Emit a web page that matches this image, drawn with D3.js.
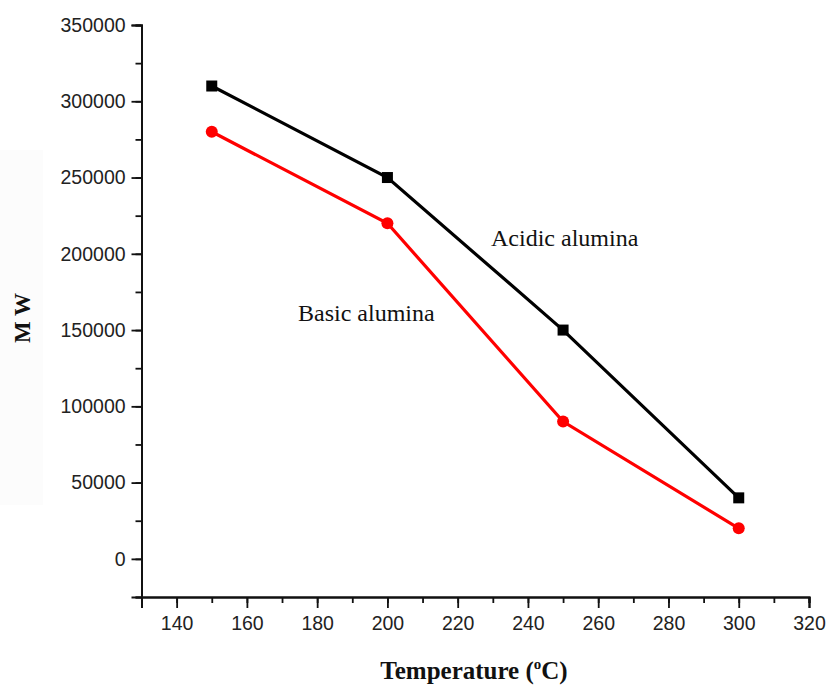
<!DOCTYPE html>
<html><head><meta charset="utf-8">
<script src="https://cdn.jsdelivr.net/npm/d3@7"></script>
<style>body{margin:0;background:#fff}svg{display:block}</style>
</head><body>
<svg id="c" width="829" height="685"></svg>
<script>
const temperatures = [150, 200, 250, 300];
const acidicMW = [310000, 250000, 150000, 40000];
const basicMW = [280000, 220000, 90000, 20000];
const xTicks = [140, 160, 180, 200, 220, 240, 260, 280, 300, 320];
const yTicks = [0, 50000, 100000, 150000, 200000, 250000, 300000, 350000];

const svg = d3.select("#c");
svg.append("rect").attr("x",0).attr("y",150).attr("width",43).attr("height",355).attr("fill","#fcfcfc");

const x = d3.scaleLinear().domain([130, 320]).range([141.5, 809]);
const y = d3.scaleLinear().domain([-25000, 350000]).range([597, 25]);

const axisColor = "#111";
const gx = svg.append("g").attr("transform", "translate(0,597)");
gx.call(d3.axisBottom(x).tickValues(d3.range(130, 321, 10)).tickSize(6).tickFormat(""));
gx.append("g").call(d3.axisBottom(x).tickValues(xTicks).tickSize(11).tickFormat(d3.format("d")));
const gy = svg.append("g").attr("transform", "translate(141.5,0)");
gy.call(d3.axisLeft(y).tickValues(d3.range(-25000, 350001, 25000)).tickSize(6).tickFormat(""));
gy.append("g").call(d3.axisLeft(y).tickValues(yTicks).tickSize(10).tickFormat(d3.format("d")));

svg.selectAll(".domain").attr("stroke", axisColor).attr("stroke-width", 2);
svg.selectAll(".tick line").attr("stroke", axisColor).attr("stroke-width", 1.8);
svg.selectAll(".tick text").style("font-family", "Liberation Sans, Arial, sans-serif").style("font-size", "19.5px").attr("fill", "#222");
gx.selectAll(".tick text").attr("dy", "0.95em");
gy.selectAll(".tick text").attr("dx", "-0.15em");

const line = d3.line().x(d => x(d[0])).y(d => y(d[1]));
const acid = temperatures.map((t, i) => [t, acidicMW[i]]);
const basic = temperatures.map((t, i) => [t, basicMW[i]]);

svg.append("path").datum(acid).attr("d", line).attr("fill", "none").attr("stroke", "#000").attr("stroke-width", 3.2);
svg.append("path").datum(basic).attr("d", line).attr("fill", "none").attr("stroke", "#f00").attr("stroke-width", 3.2);

svg.selectAll(".sq").data(acid).enter().append("rect")
  .attr("x", d => x(d[0]) - 5.5).attr("y", d => y(d[1]) - 5.5)
  .attr("width", 11).attr("height", 11).attr("fill", "#000");
svg.selectAll(".ci").data(basic).enter().append("circle")
  .attr("cx", d => x(d[0])).attr("cy", d => y(d[1])).attr("r", 6).attr("fill", "#f00");

const serif = "Liberation Serif, Times New Roman, serif";
svg.append("text").attr("x", 491).attr("y", 246).attr("font-family", serif).attr("font-size", 24).attr("fill", "#111").text("Acidic alumina");
svg.append("text").attr("x", 298).attr("y", 321).attr("font-family", serif).attr("font-size", 24).attr("fill", "#111").text("Basic alumina");

svg.append("text").attr("transform", "translate(30,318) rotate(-90)").attr("text-anchor", "middle")
  .attr("font-family", serif).attr("font-weight", "bold").attr("font-size", 23).attr("fill", "#111").text("M W");

const xl = svg.append("text").attr("x", 474).attr("y", 679).attr("text-anchor", "middle")
  .attr("font-family", serif).attr("font-weight", "bold").attr("font-size", 25).attr("fill", "#111");
xl.append("tspan").text("Temperature (");
xl.append("tspan").attr("font-size", 15).attr("dy", -10).text("o");
xl.append("tspan").attr("dy", 10).text("C)");
</script>
</body></html>
